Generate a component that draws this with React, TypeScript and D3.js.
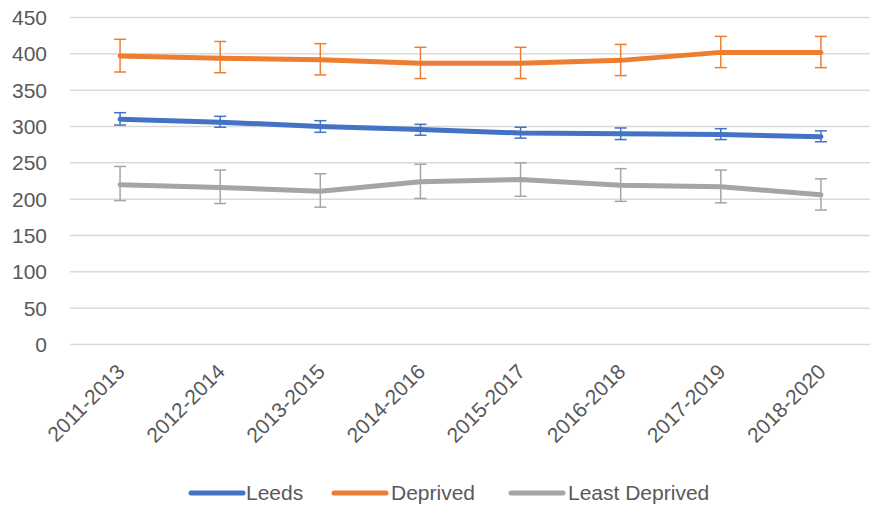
import React from "react";
import * as d3 from "d3";

const categories = ["2011-2013", "2012-2014", "2013-2015", "2014-2016", "2015-2017", "2016-2018", "2017-2019", "2018-2020"];
const leeds = [310, 306, 300, 296, 291, 290, 289, 286];
const leedsUpper = [319, 314, 308, 303, 299, 298, 297, 294];
const leedsLower = [302, 299, 292, 288, 284, 282, 282, 279];
const deprived = [397, 394, 392, 387, 387, 391, 402, 402];
const deprivedUpper = [420, 417, 414, 409, 409, 413, 424, 424];
const deprivedLower = [375, 374, 371, 366, 366, 370, 381, 381];
const leastDeprived = [220, 216, 211, 224, 227, 219, 217, 206];
const leastUpper = [245, 240, 235, 248, 250, 242, 240, 228];
const leastLower = [198, 194, 189, 201, 204, 197, 195, 185];
const yTicks = [0, 50, 100, 150, 200, 250, 300, 350, 400, 450];

const seriesList = [
  { name: "Leeds", values: leeds, upper: leedsUpper, lower: leedsLower, color: "#4472C4" },
  { name: "Deprived", values: deprived, upper: deprivedUpper, lower: deprivedLower, color: "#ED7D31" },
  { name: "Least Deprived", values: leastDeprived, upper: leastUpper, lower: leastLower, color: "#A5A5A5" },
];

const W = 870;
const H = 507;
const FONT = "'Liberation Sans', Arial, sans-serif";

export default function App() {
  const x = d3.scaleBand<string>().domain(categories).range([70, 871]);
  const y = d3.scaleLinear().domain([0, 450]).range([344.5, 17.5]);
  const cx = (c: string) => (x(c) as number) + x.bandwidth() / 2;
  const line = d3
    .line<number>()
    .x((_, i) => cx(categories[i]))
    .y((v) => y(v));

  const legendItems = [
    { name: "Leeds", color: "#4472C4", x0: 191, tx: 246 },
    { name: "Deprived", color: "#ED7D31", x0: 334, tx: 391 },
    { name: "Least Deprived", color: "#A5A5A5", x0: 511, tx: 568 },
  ];

  return (
    <svg width={W} height={H} style={{ position: "absolute", left: 0, top: 0, background: "#fff" }}>
      <rect x={0} y={0} width={W} height={H} fill="#fff" />
      {yTicks.map((t) => (
        <g key={t}>
          <line x1={70} x2={871} y1={y(t)} y2={y(t)} stroke="#D9D9D9" strokeWidth={1.5} />
          <text x={47} y={y(t)} dy="0.35em" textAnchor="end" fontFamily={FONT} fontSize={21} fill="#595959">
            {t}
          </text>
        </g>
      ))}
      {seriesList.map((s) => (
        <path
          key={s.name}
          d={line(s.values) || ""}
          fill="none"
          stroke={s.color}
          strokeWidth={5}
          strokeLinejoin="round"
          strokeLinecap="round"
        />
      ))}
      {seriesList.map((s) => (
        <g key={s.name + "-err"} stroke={s.color} strokeWidth={1.5}>
          {s.values.map((_, i) => {
            const px = cx(categories[i]);
            return (
              <g key={i}>
                <line x1={px} x2={px} y1={y(s.upper[i])} y2={y(s.lower[i])} />
                <line x1={px - 6} x2={px + 6} y1={y(s.upper[i])} y2={y(s.upper[i])} />
                <line x1={px - 6} x2={px + 6} y1={y(s.lower[i])} y2={y(s.lower[i])} />
              </g>
            );
          })}
        </g>
      ))}
      {categories.map((c) => (
        <text
          key={c}
          transform={`translate(${cx(c) + 6},${373}) rotate(-45)`}
          textAnchor="end"
          fontFamily={FONT}
          fontSize={21}
          fill="#595959"
        >
          {c}
        </text>
      ))}
      {legendItems.map((l) => (
        <g key={l.name}>
          <line x1={l.x0} x2={l.x0 + 52} y1={493} y2={493} stroke={l.color} strokeWidth={5} strokeLinecap="round" />
          <text x={l.tx} y={493} dy="0.35em" fontFamily={FONT} fontSize={21} fill="#595959">
            {l.name}
          </text>
        </g>
      ))}
    </svg>
  );
}
